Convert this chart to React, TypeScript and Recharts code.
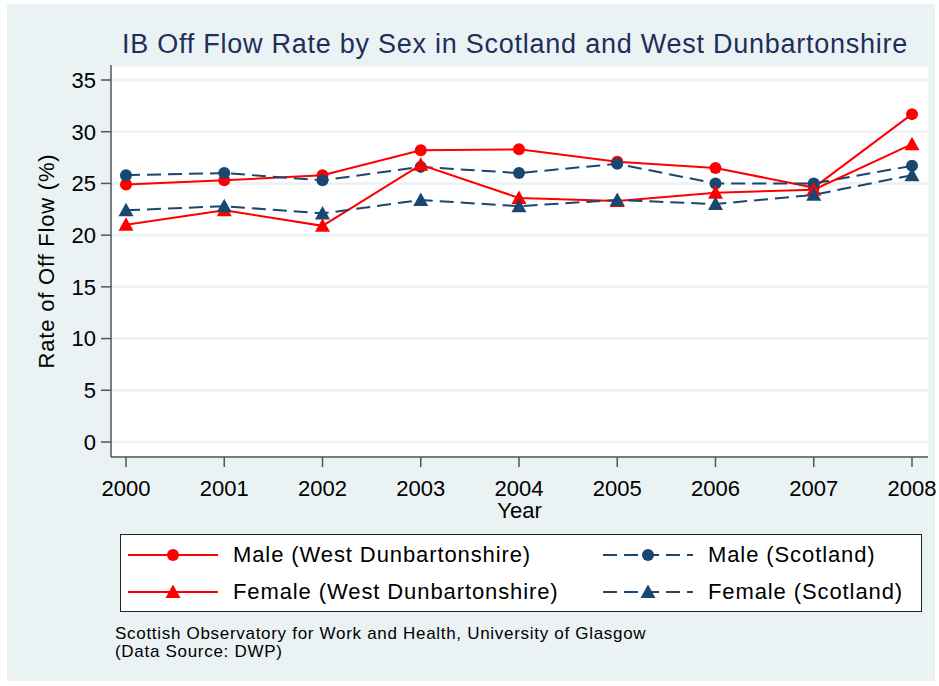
import { LineChart, Line, XAxis, YAxis, CartesianGrid } from 'recharts';

const years = [2000, 2001, 2002, 2003, 2004, 2005, 2006, 2007, 2008];
const maleWD = [24.9, 25.3, 25.8, 28.2, 28.3, 27.1, 26.5, 24.6, 31.7];
const femaleWD = [21.0, 22.4, 20.9, 26.8, 23.6, 23.3, 24.1, 24.4, 28.8];
const maleScot = [25.8, 26.0, 25.3, 26.6, 26.0, 26.9, 25.0, 25.0, 26.7];
const femaleScot = [22.4, 22.8, 22.1, 23.4, 22.8, 23.4, 23.0, 23.9, 25.8];
const yTicks = [0, 5, 10, 15, 20, 25, 30, 35];

const RED = '#ff0000';
const NAVY = '#1a476f';
const BG = '#eaf2f3';
const FONT = '"Liberation Sans", Arial, sans-serif';

const data = years.map((y, i) => ({
  year: y,
  maleWD: maleWD[i],
  femaleWD: femaleWD[i],
  maleScot: maleScot[i],
  femaleScot: femaleScot[i],
}));

const Tri = (color: string) => (props: any) => {
  const { cx, cy, index } = props;
  if (cx == null || cy == null) return <g key={index} />;
  const s = 7.5;
  return (
    <polygon
      key={index}
      points={`${cx},${cy - s} ${cx + s},${cy + s * 0.8} ${cx - s},${cy + s * 0.8}`}
      fill={color}
    />
  );
};

function LegendItem({ x, y, color, dashed, shape, label }: any) {
  return (
    <div style={{ position: 'absolute', left: x, top: y, height: 30, display: 'flex', alignItems: 'center' }}>
      <svg width={92} height={30}>
        <line x1={1} y1={15} x2={91} y2={15} stroke={color} strokeWidth={2} strokeDasharray={dashed ? '14 7' : undefined} />
        {shape === 'circle' ? (
          <circle cx={46} cy={15} r={6} fill={color} />
        ) : (
          <polygon points="46,7.5 53.5,21 38.5,21" fill={color} />
        )}
      </svg>
      <span style={{ marginLeft: 14, fontSize: 22, letterSpacing: 0.9, color: '#000', fontFamily: FONT }}>{label}</span>
    </div>
  );
}

export default function App() {
  return (
    <div style={{ position: 'absolute', left: 0, top: 0, width: 939, height: 686, background: '#fff', fontFamily: FONT }}>
      <div style={{ position: 'absolute', left: 7, top: 4, width: 928, height: 677, background: BG }} />
      <div style={{ position: 'absolute', left: 111, top: 65, width: 817, height: 392, background: '#fff' }} />
      <div
        style={{
          position: 'absolute',
          left: 0,
          width: 1030,
          top: 29,
          textAlign: 'center',
          fontSize: 27,
          letterSpacing: 0.75,
          color: '#1e2f5a',
          whiteSpace: 'nowrap',
        }}
      >
        IB Off Flow Rate by Sex in Scotland and West Dunbartonshire
      </div>
      <div style={{ position: 'absolute', left: 0, top: 0 }}>
        <LineChart
          width={939}
          height={686}
          data={data}
          margin={{ top: 65, right: 11, bottom: 159, left: 51 }}
        >
          <CartesianGrid horizontal vertical={false} stroke={BG} strokeWidth={2.5} />
          <XAxis
            dataKey="year"
            type="number"
            domain={[2000, 2008]}
            ticks={years}
            padding={{ left: 15, right: 16 }}
            height={70}
            axisLine={{ stroke: '#555', strokeWidth: 1.5 }}
            tickLine={{ stroke: '#555', strokeWidth: 1.5 }}
            tickSize={10}
            tickMargin={13}
            tick={{ fill: '#000', fontSize: 22, fontFamily: FONT }}
            label={{ value: 'Year', position: 'insideBottom', offset: 9, fill: '#000', fontSize: 22, fontFamily: FONT }}
          />
          <YAxis
            type="number"
            domain={[0, 35]}
            ticks={yTicks}
            padding={{ top: 15, bottom: 15 }}
            width={60}
            axisLine={{ stroke: '#555', strokeWidth: 1.5 }}
            tickLine={{ stroke: '#555', strokeWidth: 1.5 }}
            tickSize={10}
            tickMargin={5}
            tick={{ fill: '#000', fontSize: 22, fontFamily: FONT }}
          />
          <Line dataKey="maleWD" stroke={RED} strokeWidth={2} dot={{ r: 6, fill: RED, stroke: 'none' }} isAnimationActive={false} />
          <Line dataKey="maleScot" stroke={NAVY} strokeWidth={2} strokeDasharray="14 7" dot={{ r: 6, fill: NAVY, stroke: 'none' }} isAnimationActive={false} />
          <Line dataKey="femaleWD" stroke={RED} strokeWidth={2} dot={Tri(RED)} isAnimationActive={false} />
          <Line dataKey="femaleScot" stroke={NAVY} strokeWidth={2} strokeDasharray="14 7" dot={Tri(NAVY)} isAnimationActive={false} />
        </LineChart>
      </div>
      <div
        style={{
          position: 'absolute',
          left: 47,
          top: 261,
          transform: 'translate(-50%, -50%) rotate(-90deg)',
          whiteSpace: 'nowrap',
          fontSize: 22,
          letterSpacing: 0.8,
          color: '#000',
        }}
      >
        Rate of Off Flow (%)
      </div>
      <div
        style={{
          position: 'absolute',
          left: 120,
          top: 534,
          width: 800,
          height: 76,
          background: '#fff',
          border: '1px solid #222',
        }}
      />
      <LegendItem x={127} y={540} color={RED} shape="circle" label="Male (West Dunbartonshire)" />
      <LegendItem x={127} y={577} color={RED} shape="triangle" label="Female (West Dunbartonshire)" />
      <LegendItem x={602} y={540} color={NAVY} dashed shape="circle" label="Male (Scotland)" />
      <LegendItem x={602} y={577} color={NAVY} dashed shape="triangle" label="Female (Scotland)" />
      <div style={{ position: 'absolute', left: 115, top: 625, fontSize: 17, letterSpacing: 0.7, lineHeight: '18px', color: '#000', whiteSpace: 'nowrap' }}>
        Scottish Observatory for Work and Health, University of Glasgow
        <br />
        (Data Source: DWP)
      </div>
    </div>
  );
}
